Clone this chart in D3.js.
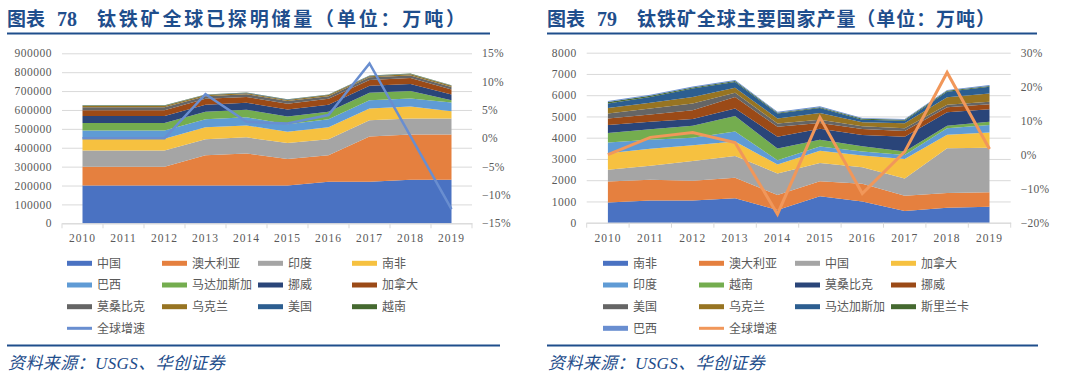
<!DOCTYPE html>
<html>
<head>
<meta charset="utf-8">
<script src="https://cdn.jsdelivr.net/npm/d3@7"></script>
<style>
body { margin: 0; background: #fff; }
svg { display: block; }
</style>
</head>
<body>
<svg id="chart" width="1080" height="385"></svg>
<script>
var years = ["2010", "2011", "2012", "2013", "2014", "2015", "2016", "2017", "2018", "2019"];

// 图表78 储量（万吨）
var resChina      = [200000, 200000, 200000, 200000, 200000, 200000, 220000, 220000, 230000, 230000];
var resAustralia  = [100000, 100000, 100000, 160000, 170000, 140000, 140000, 240000, 240000, 240000];
var resIndia      = [85000, 85000, 85000, 85000, 85000, 85000, 85000, 85000, 85000, 85000];
var resSouthAfr   = [63000, 63000, 63000, 63000, 63000, 60000, 63000, 63000, 63000, 38000];
var resBrazil     = [43000, 43000, 43000, 43000, 43000, 40000, 43000, 43000, 43000, 46000];
var resMadagascar = [40000, 40000, 40000, 40000, 40000, 40000, 40000, 40000, 40000, 12000];
var resNorway     = [37000, 37000, 37000, 37000, 37000, 37000, 37000, 37000, 37000, 31000];
var resCanada     = [31000, 31000, 31000, 31000, 31000, 31000, 31000, 31000, 31000, 26000];
var resMozambique = [16000, 16000, 16000, 14000, 14000, 14000, 14000, 14000, 14000, 14000];
var resUkraine    = [5900, 5900, 5900, 5900, 5900, 5900, 5900, 5900, 5900, 5900];
var resUSA        = [2000, 2000, 2000, 2000, 2000, 2000, 2000, 2000, 2000, 2000];
var resVietnam    = [1600, 1600, 1600, 1600, 1600, 1600, 1600, 1600, 1600, 1600];
var resGrowth     = [0, 0, 0, 0.078, 0.029, 0.026, 0.041, 0.132, 0.004, -0.125];
var resNames = ["中国", "澳大利亚", "印度", "南非", "巴西", "马达加斯加", "挪威", "加拿大", "莫桑比克", "乌克兰", "美国", "越南"];
var resSeries = [resChina, resAustralia, resIndia, resSouthAfr, resBrazil, resMadagascar, resNorway, resCanada, resMozambique, resUkraine, resUSA, resVietnam];

// 图表79 产量（万吨）
var prodSouthAfr   = [950, 1050, 1050, 1150, 600, 1250, 1000, 550, 700, 750];
var prodAustralia  = [990, 970, 925, 970, 700, 700, 830, 720, 700, 680];
var prodChina      = [550, 660, 925, 1020, 1020, 860, 780, 815, 2100, 2100];
var prodCanada     = [780, 800, 750, 680, 420, 580, 550, 910, 640, 720];
var prodIndia      = [500, 420, 345, 470, 200, 200, 190, 190, 300, 345];
var prodVietnam    = [450, 500, 565, 730, 550, 310, 250, 160, 125, 160];
var prodMozambique = [380, 345, 315, 360, 550, 520, 530, 700, 630, 580];
var prodNorway     = [300, 345, 420, 530, 470, 270, 280, 270, 235, 235];
var prodUSA        = [235, 280, 310, 200, 160, 160, 125, 125, 125, 125];
var prodUkraine    = [260, 270, 315, 235, 235, 310, 190, 235, 345, 390];
var prodMadagascar = [220, 280, 390, 280, 235, 235, 125, 125, 265, 310];
var prodSriLanka   = [60, 50, 50, 40, 40, 40, 40, 40, 40, 40];
var prodBrazil     = [50, 50, 50, 50, 40, 40, 40, 40, 40, 40];
var prodGrowth     = [0, 0.051, 0.065, 0.036, -0.175, 0.11, -0.114, 0.009, 0.242, 0.017];
var prodNames = ["南非", "澳大利亚", "中国", "加拿大", "印度", "越南", "莫桑比克", "挪威", "美国", "乌克兰", "马达加斯加", "斯里兰卡", "巴西"];
var prodSeries = [prodSouthAfr, prodAustralia, prodChina, prodCanada, prodIndia, prodVietnam, prodMozambique, prodNorway, prodUSA, prodUkraine, prodMadagascar, prodSriLanka, prodBrazil];

var officeColors = ["#4a72c2", "#e5803f", "#a5a5a5", "#f6c140", "#5f9bd5", "#74ad4f", "#2a4579", "#9b4a17", "#656565", "#977422", "#2c5e90", "#456930", "#698ed0", "#f1975a"];

var svg = d3.select("#chart");
var numFont = "'Liberation Serif', 'Times New Roman', serif";
var cjkFont = "'Noto Sans CJK SC', sans-serif";
var navy = "#1f4e8c";

function drawChart(c) {
    var g = svg.append("g");
    var x = d3.scaleBand().domain(years).range([c.left, c.right]).padding(0);
    var cx = function(d) { return x(d) + x.bandwidth() / 2; };
    var y = d3.scaleLinear().domain([0, c.yMax]).range([c.bottom, c.top]);
    var y2 = d3.scaleLinear().domain([c.y2Min, c.y2Max]).range([c.bottom, c.top]);

    // grid + left axis
    var ya = g.append("g").attr("transform", "translate(" + c.left + ",0)")
        .call(d3.axisLeft(y).tickValues(d3.range(0, c.yMax + 1, c.yStep))
            .tickSize(-(c.right - c.left)).tickPadding(10).tickFormat(d3.format("d")));
    ya.select(".domain").remove();
    ya.selectAll("line").attr("stroke", "#d9d9d9");
    ya.selectAll("text").attr("fill", "#595959").style("font-family", numFont)
        .style("font-size", "11.5px").style("letter-spacing", "0.5px");

    // right axis
    var ya2 = g.append("g").attr("transform", "translate(" + c.right + ",0)")
        .call(d3.axisRight(y2).tickValues(d3.range(c.y2Min, c.y2Max + 0.001, c.y2Step))
            .tickSize(0).tickPadding(10).tickFormat(d3.format(".0%")));
    ya2.select(".domain").remove();
    ya2.selectAll("text").attr("fill", "#595959").style("font-family", numFont)
        .style("font-size", "11.5px").style("letter-spacing", "0.3px");

    // stacked areas
    var rows = years.map(function(yr, i) {
        var r = { year: yr };
        c.names.forEach(function(n, j) { r[n] = c.series[j][i]; });
        return r;
    });
    var stacked = d3.stack().keys(c.names)(rows);
    var area = d3.area()
        .x(function(d) { return cx(d.data.year); })
        .y0(function(d) { return y(d[0]); })
        .y1(function(d) { return y(d[1]); });
    g.selectAll(".layer").data(stacked).enter().append("path")
        .attr("d", area)
        .attr("fill", function(d, i) { return officeColors[i]; });

    // bottom axis
    var xa = g.append("g").attr("transform", "translate(0," + c.bottom + ")")
        .call(d3.axisBottom(x).tickSize(0).tickPadding(11));
    xa.select(".domain").attr("stroke", "#d9d9d9");
    xa.selectAll("text").attr("fill", "#595959").style("font-family", numFont)
        .style("font-size", "11.5px").style("letter-spacing", "1px");
    var edges = years.map(function(d) { return x(d); }).concat([c.right]);
    g.selectAll(".xtick").data(edges).enter().append("line")
        .attr("x1", function(d) { return d; }).attr("x2", function(d) { return d; })
        .attr("y1", c.bottom).attr("y2", c.bottom + 5)
        .attr("stroke", "#d9d9d9");

    // growth line
    var line = d3.line()
        .x(function(d, i) { return cx(years[i]); })
        .y(function(d) { return y2(d); });
    g.append("path").datum(c.growth).attr("d", line)
        .attr("fill", "none").attr("stroke", c.lineColor)
        .attr("stroke-width", c.lineWidth).attr("stroke-linejoin", "miter");

    // legend
    var items = c.names.map(function(n, i) { return { name: n, color: officeColors[i], type: "rect" }; });
    items.push({ name: "全球增速", color: c.lineColor, type: "line" });
    var lg = g.selectAll(".lg").data(items).enter().append("g")
        .attr("transform", function(d, i) {
            return "translate(" + c.legendX[i % 4] + "," + c.legendY[Math.floor(i / 4)] + ")";
        });
    lg.append("rect")
        .attr("x", 0).attr("y", function(d) { return d.type == "line" ? -1.5 : -2.5; })
        .attr("width", 25).attr("height", function(d) { return d.type == "line" ? 3 : 5; })
        .attr("fill", function(d) { return d.color; });
    lg.append("text")
        .attr("x", 30).attr("y", 0).attr("dy", "0.36em")
        .attr("fill", "#595959")
        .style("font-family", cjkFont).style("font-size", "12px")
        .text(function(d) { return d.name; });

    // title
    svg.append("text").attr("x", c.ox + 7).attr("y", 26)
        .attr("fill", navy).style("font-family", cjkFont).style("font-weight", "bold")
        .style("font-size", "19px").text("图表");
    svg.append("text").attr("x", c.ox + 57).attr("y", 26)
        .attr("fill", navy).style("font-family", numFont).style("font-weight", "bold")
        .style("font-size", "20px").text(c.num);
    svg.append("text").attr("x", c.titleX).attr("y", 26)
        .attr("fill", navy).style("font-family", cjkFont).style("font-weight", "bold")
        .style("font-size", "19px")
        .attr("textLength", c.titleLen).attr("lengthAdjust", "spacing")
        .text(c.title);
    svg.append("line").attr("x1", c.ox + 7).attr("x2", c.lineEnd).attr("y1", 33.5).attr("y2", 33.5)
        .attr("stroke", navy).attr("stroke-width", 2);
    svg.append("line").attr("x1", c.ox + 7).attr("x2", c.lineEnd2).attr("y1", 345.5).attr("y2", 345.5)
        .attr("stroke", navy).attr("stroke-width", 2);
    svg.append("text").attr("x", c.ox + 8).attr("y", 368.5)
        .attr("fill", navy).style("font-family", numFont + ", " + cjkFont)
        .style("font-style", "italic").style("font-size", "17px").style("letter-spacing", "0.4px")
        .text("资料来源：USGS、华创证券");
}

drawChart({
    ox: 0, left: 62, right: 472, top: 53.3, bottom: 223.3,
    yMax: 900000, yStep: 100000, y2Min: -0.15, y2Max: 0.15, y2Step: 0.05,
    names: resNames, series: resSeries, growth: resGrowth,
    lineColor: "#698ed0", lineWidth: 2.5,
    legendX: [67, 162, 258, 352], legendY: [263.3, 285, 306.7, 328.3],
    num: "78", title: "钛铁矿全球已探明储量（单位：万吨）", titleX: 97, titleLen: 368,
    lineEnd: 490, lineEnd2: 500
});

drawChart({
    ox: 540, left: 586.7, right: 1010.7, top: 52.7, bottom: 222.7,
    yMax: 8000, yStep: 1000, y2Min: -0.2, y2Max: 0.3, y2Step: 0.1,
    names: prodNames, series: prodSeries, growth: prodGrowth,
    lineColor: "#f1975a", lineWidth: 3,
    legendX: [603, 699, 795, 891], legendY: [263.3, 285, 306.7, 328.3],
    num: "79", title: "钛铁矿全球主要国家产量（单位：万吨）", titleX: 637, titleLen: 358,
    lineEnd: 1037, lineEnd2: 1038
});
</script>
</body>
</html>
